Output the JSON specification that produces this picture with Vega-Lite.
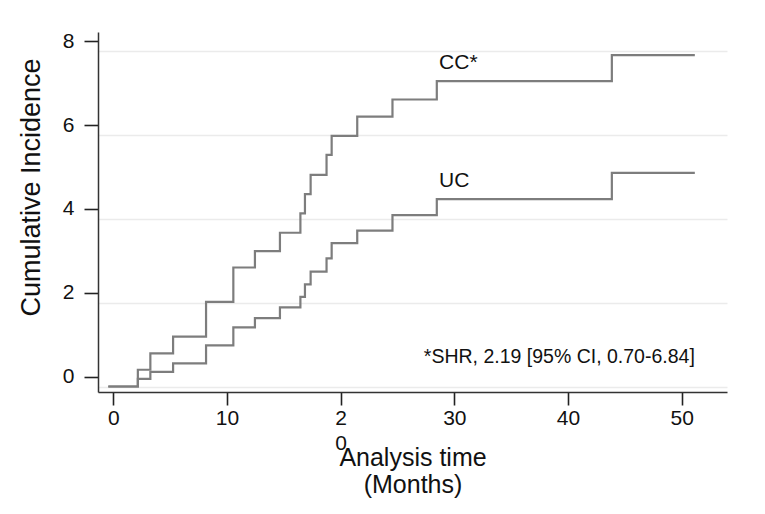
{
  "$schema": "https://vega.github.io/schema/vega-lite/v6.json",
  "autosize": "none",
  "width": 629,
  "height": 360,
  "padding": {"left": 98, "top": 32, "right": 38, "bottom": 122},
  "background": "white",
  "config": {
    "view": {"stroke": null},
    "font": "Liberation Sans",
    "axis": {"labelFont": "Liberation Sans", "titleFont": "Liberation Sans", "labelColor": "#111", "titleColor": "#111", "titleFontWeight": "normal"}
  },
  "datasets": {
    "curves": [
      {"group": "UC", "month": 0, "incidence": 0},
      {"group": "UC", "month": 2.6, "incidence": 0.18},
      {"group": "UC", "month": 3.7, "incidence": 0.35},
      {"group": "UC", "month": 5.7, "incidence": 0.55},
      {"group": "UC", "month": 8.6, "incidence": 0.98},
      {"group": "UC", "month": 11.0, "incidence": 1.41},
      {"group": "UC", "month": 12.9, "incidence": 1.63},
      {"group": "UC", "month": 15.1, "incidence": 1.89},
      {"group": "UC", "month": 16.9, "incidence": 2.14},
      {"group": "UC", "month": 17.3, "incidence": 2.44},
      {"group": "UC", "month": 17.8, "incidence": 2.74},
      {"group": "UC", "month": 19.2, "incidence": 3.06},
      {"group": "UC", "month": 19.65, "incidence": 3.42},
      {"group": "UC", "month": 21.9, "incidence": 3.72},
      {"group": "UC", "month": 25.0, "incidence": 4.09},
      {"group": "UC", "month": 28.9, "incidence": 4.47},
      {"group": "UC", "month": 44.3, "incidence": 5.1},
      {"group": "UC", "month": 51.6, "incidence": 5.1},
      {"group": "CC", "month": 0, "incidence": 0},
      {"group": "CC", "month": 2.6, "incidence": 0.4},
      {"group": "CC", "month": 3.7, "incidence": 0.79},
      {"group": "CC", "month": 5.7, "incidence": 1.19},
      {"group": "CC", "month": 8.6, "incidence": 2.02},
      {"group": "CC", "month": 11.0, "incidence": 2.84},
      {"group": "CC", "month": 12.9, "incidence": 3.23},
      {"group": "CC", "month": 15.1, "incidence": 3.67},
      {"group": "CC", "month": 16.9, "incidence": 4.13},
      {"group": "CC", "month": 17.3, "incidence": 4.59},
      {"group": "CC", "month": 17.8, "incidence": 5.05},
      {"group": "CC", "month": 19.2, "incidence": 5.53},
      {"group": "CC", "month": 19.65, "incidence": 5.98},
      {"group": "CC", "month": 21.9, "incidence": 6.44},
      {"group": "CC", "month": 25.0, "incidence": 6.85},
      {"group": "CC", "month": 28.9, "incidence": 7.29},
      {"group": "CC", "month": 44.3, "incidence": 7.91},
      {"group": "CC", "month": 51.6, "incidence": 7.91}
    ],
    "labels": [
      {"label": "CC*", "month": 29.1, "incidence": 7.72},
      {"label": "UC", "month": 29.1, "incidence": 4.9}
    ],
    "note": [
      {"label": "*SHR, 2.19 [95% CI, 0.70-6.84]", "month": 51.6, "incidence": 0.7}
    ]
  },
  "layer": [
    {
      "data": {"name": "curves"},
      "mark": {"type": "line", "interpolate": "step-after", "color": "#7d7d7d", "strokeWidth": 2.2},
      "encoding": {
        "x": {
          "field": "month", "type": "quantitative",
          "scale": {"domain": [-0.906, 54.43], "nice": false, "zero": false},
          "axis": {
            "values": [0, 10, 20, 30, 40, 50],
            "labelExpr": "datum.value == 20 ? ['2', '0\u00a0\u00a0'] : datum.label",
            "labelLineHeight": 25,
            "labelFontSize": 21,
            "labelPadding": 2,
            "labelFlush": false,
            "labelOverlap": false,
            "tickOffset": 5,
            "tickSize": 13,
            "tickWidth": 1.6,
            "tickColor": "#222",
            "domainColor": "#333",
            "domainWidth": 1.5,
            "grid": false,
            "title": ["Analysis time", "(Months)"],
            "titleFontSize": 25,
            "titleLineHeight": 27,
            "titleBaseline": "top",
            "titleY": 53
          }
        },
        "y": {
          "field": "incidence", "type": "quantitative",
          "scale": {"domain": [-0.131, 8.461], "nice": false, "zero": false},
          "axis": {
            "values": [0, 2, 4, 6, 8],
            "labelFontSize": 21,
            "labelPadding": 10,
            "tickOffset": -10,
            "tickSize": 14,
            "tickWidth": 1.6,
            "tickColor": "#222",
            "domainColor": "#333",
            "domainWidth": 1.5,
            "grid": false,
            "title": "Cumulative Incidence",
            "titleFontSize": 27,
            "titleBaseline": "alphabetic",
            "titleX": -59,
            "titleY": 155
          }
        },
        "detail": {"field": "group", "type": "nominal"}
      }
    },
    {
      "data": {"name": "labels"},
      "mark": {"type": "text", "align": "left", "baseline": "middle", "fontSize": 21, "color": "#111", "font": "Liberation Sans"},
      "encoding": {
        "x": {"field": "month", "type": "quantitative"},
        "y": {
          "field": "incidence", "type": "quantitative",
          "axis": {"orient": "left", "values": [0, 2, 4, 6, 8], "grid": true, "gridColor": "#ebebeb", "gridWidth": 1.6, "labels": false, "ticks": false, "domain": false, "title": null}
        },
        "text": {"field": "label"}
      }
    },
    {
      "data": {"name": "note"},
      "mark": {"type": "text", "align": "right", "baseline": "middle", "fontSize": 19.5, "color": "#111", "font": "Liberation Sans"},
      "encoding": {
        "x": {"field": "month", "type": "quantitative"},
        "y": {"field": "incidence", "type": "quantitative", "axis": null},
        "text": {"field": "label"}
      }
    }
  ],
  "resolve": {"axis": {"y": "independent"}}
}
